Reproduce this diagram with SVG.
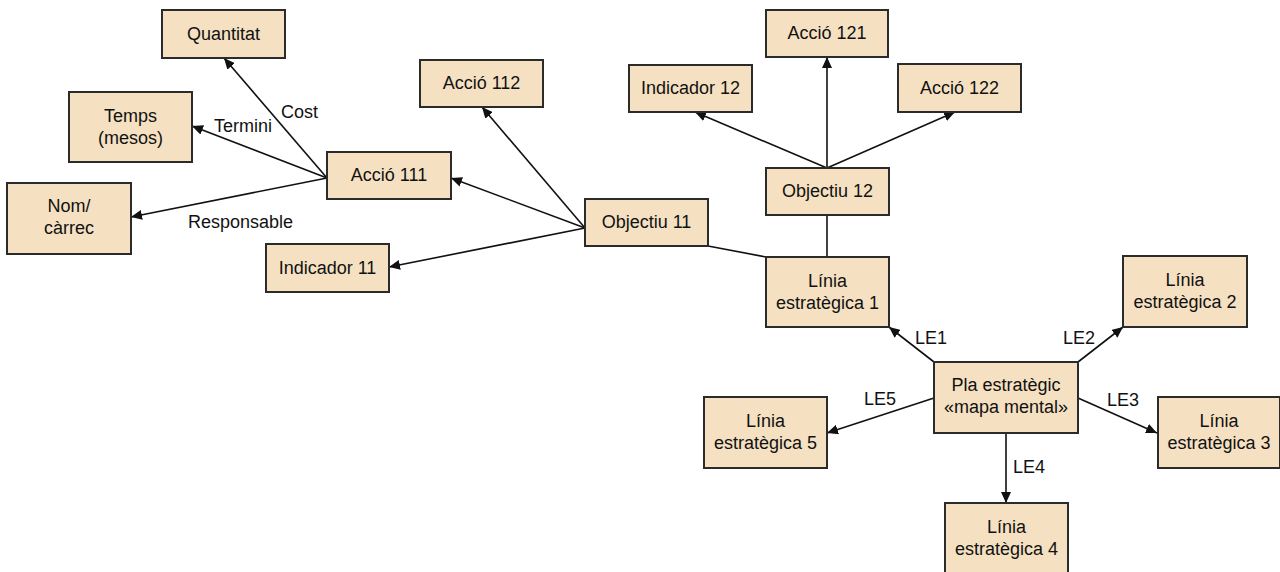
<svg xmlns="http://www.w3.org/2000/svg" width="1280" height="572" viewBox="0 0 1280 572">
<defs>
<style>
.box{fill:#F5E1C2;stroke:#2b2b2b;stroke-width:2}
.t{font-family:"Liberation Sans",Arial,sans-serif;font-size:18px;fill:#111;text-anchor:middle}
.l{font-family:"Liberation Sans",Arial,sans-serif;font-size:18px;fill:#111}
.c{stroke:#111;stroke-width:1.6;fill:none}
.a{marker-end:url(#arr)}
</style>
<marker id="arr" markerUnits="userSpaceOnUse" markerWidth="12" markerHeight="10" refX="11" refY="5" orient="auto">
<path d="M0,0 L11,5 L0,10 Z" fill="#111"/>
</marker>
</defs>
<rect width="1280" height="572" fill="#fff"/>
<g id="connectors">
<line class="c a" x1="327" y1="178" x2="224" y2="58"/>
<line class="c a" x1="327" y1="178" x2="192" y2="126"/>
<line class="c a" x1="327" y1="178" x2="131" y2="217"/>
<line class="c a" x1="585" y1="228" x2="451" y2="178"/>
<line class="c a" x1="585" y1="228" x2="482" y2="107"/>
<line class="c a" x1="585" y1="228" x2="389" y2="267"/>
<line class="c" x1="708" y1="246" x2="766" y2="257"/>
<line class="c a" x1="827" y1="168" x2="827" y2="57"/>
<line class="c a" x1="827" y1="168" x2="695" y2="112"/>
<line class="c a" x1="827" y1="168" x2="955" y2="112"/>
<line class="c" x1="827" y1="215" x2="827" y2="257"/>
<line class="c a" x1="934" y1="362" x2="889" y2="327"/>
<line class="c a" x1="1078" y1="362" x2="1123" y2="327"/>
<line class="c a" x1="1078" y1="398" x2="1157" y2="433"/>
<line class="c a" x1="934" y1="398" x2="827" y2="433"/>
<line class="c a" x1="1006" y1="433" x2="1006" y2="503"/>
<text class="l" x="281" y="118">Cost</text>
<text class="l" x="214" y="132">Termini</text>
<text class="l" x="188" y="228">Responsable</text>
<text class="l" x="915" y="344">LE1</text>
<text class="l" x="1063" y="344">LE2</text>
<text class="l" x="1107" y="406">LE3</text>
<text class="l" x="1013" y="473">LE4</text>
<text class="l" x="864" y="405">LE5</text>
</g>
<g id="quantitat"><rect class="box" x="162" y="10" width="123" height="48"/><text class="t" x="223.5" y="40">Quantitat</text></g>
<g id="temps"><rect class="box" x="69" y="92" width="123" height="70"/><text class="t" x="130.5" y="122">Temps</text><text class="t" x="130.5" y="144">(mesos)</text></g>
<g id="nom"><rect class="box" x="7" y="183" width="124" height="71"/><text class="t" x="69" y="212">Nom/</text><text class="t" x="69" y="234">càrrec</text></g>
<g id="accio111"><rect class="box" x="327" y="152" width="124" height="47"/><text class="t" x="389" y="181">Acció 111</text></g>
<g id="indicador11"><rect class="box" x="266" y="244" width="123" height="48"/><text class="t" x="327.5" y="274">Indicador 11</text></g>
<g id="accio112"><rect class="box" x="420" y="60" width="123" height="47"/><text class="t" x="481.5" y="89">Acció 112</text></g>
<g id="objectiu11"><rect class="box" x="585" y="199" width="123" height="47"/><text class="t" x="646.5" y="228">Objectiu 11</text></g>
<g id="indicador12"><rect class="box" x="629" y="65" width="123" height="47"/><text class="t" x="690.5" y="94">Indicador 12</text></g>
<g id="accio121"><rect class="box" x="766" y="10" width="122" height="47"/><text class="t" x="827" y="39">Acció 121</text></g>
<g id="accio122"><rect class="box" x="898" y="64" width="123" height="48"/><text class="t" x="959.5" y="94">Acció 122</text></g>
<g id="objectiu12"><rect class="box" x="766" y="168" width="123" height="47"/><text class="t" x="827.5" y="197">Objectiu 12</text></g>
<g id="linia1"><rect class="box" x="766" y="257" width="123" height="70"/><text class="t" x="827.5" y="287">Línia</text><text class="t" x="827.5" y="309">estratègica 1</text></g>
<g id="linia2"><rect class="box" x="1123" y="256" width="124" height="71"/><text class="t" x="1185" y="286">Línia</text><text class="t" x="1185" y="308">estratègica 2</text></g>
<g id="pla"><rect class="box" x="934" y="362" width="144" height="71"/><text class="t" x="1006" y="391">Pla estratègic</text><text class="t" x="1006" y="413">«mapa mental»</text></g>
<g id="linia3"><rect class="box" x="1158" y="397" width="122" height="71"/><text class="t" x="1219" y="427">Línia</text><text class="t" x="1219" y="449">estratègica 3</text></g>
<g id="linia5"><rect class="box" x="704" y="397" width="123" height="71"/><text class="t" x="765.5" y="427">Línia</text><text class="t" x="765.5" y="449">estratègica 5</text></g>
<g id="linia4"><rect class="box" x="945" y="503" width="123" height="71"/><text class="t" x="1006.5" y="533">Línia</text><text class="t" x="1006.5" y="555">estratègica 4</text></g>
</svg>
